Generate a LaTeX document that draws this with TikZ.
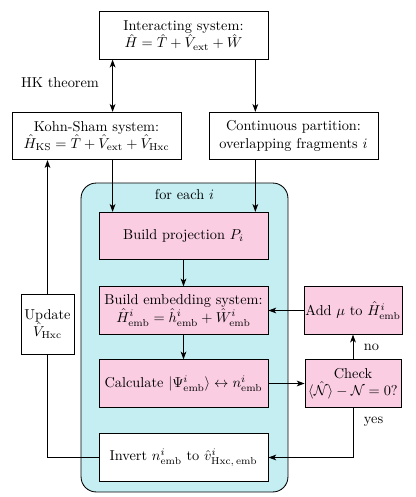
\documentclass[tikz,border=0pt]{standalone}
\usepackage{amsmath}
\usetikzlibrary{arrows.meta}
\definecolor{loopcyan}{RGB}{197,238,242}
\definecolor{steppink}{RGB}{250,205,226}
\begin{document}
\begin{tikzpicture}[x=0.0245cm,y=-0.0245cm,
    >={Stealth[length=5.5pt,width=4pt,inset=1.5pt]},
    every path/.style={semithick},
    plainbox/.style={draw,fill=white,align=center,inner sep=1pt,minimum width=4.14cm,minimum height=1.16cm},
    pinkbox/.style={plainbox,fill=steppink},
    sidebox/.style={pinkbox,minimum width=2.35cm}]
    \useasboundingbox (0,0) rectangle (415,497);
    \node[draw,fill=loopcyan,rounded corners=0.37cm,minimum width=5.07cm,minimum height=7.57cm] at (184.5,337.5) (loop) {};
    \node[below=1pt] at (loop.north) (each) {for each $i$};
    \node[plainbox] at (183.5,35.5) (int) {Interacting system:\\ $\hat{H}=\hat{T}+\hat{V}_{\text{ext}}+\hat{W}$};
    \node[plainbox] at (96.5,136) (ks) {Kohn-Sham system:\\ $\hat{H}_{\text{KS}}=\hat{T}+\hat{V}_{\text{ext}}+\hat{V}_{\text{Hxc}}$};
    \node[plainbox] at (293.5,136) (part) {Continuous partition:\\ overlapping fragments $i$};
    \node[pinkbox] at (183.5,236) (proj) {Build projection $P_i$};
    \node[pinkbox] at (183.5,310.5) (emb) {Build embedding system:\\ $\hat{H}^i_{\text{emb}}=\hat{h}^i_{\text{emb}}+\hat{W}^i_{\text{emb}}$};
    \node[pinkbox] at (183.5,383.5) (calc) {Calculate $|\Psi^i_{\text{emb}}\rangle\leftrightarrow n^i_{\text{emb}}$};
    \node[plainbox] at (183.5,457.5) (inv) {Invert $n^i_{\text{emb}}$ to $\hat{v}^i_{\text{Hxc},\,\text{emb}}$};
    \node[plainbox,minimum width=1.3cm,minimum height=1.47cm] at (47.5,324) (upd) {Update\\ $\hat{V}_{\text{Hxc}}$};
    \node[sidebox] at (353,310.5) (addmu) {Add $\mu$ to $\hat{H}^i_{\text{emb}}$};
    \node[sidebox] at (353,383.5) (check) {Check\\ $\langle\hat{\mathcal{N}}\rangle-\mathcal{N}=0?$};
    \node at (60,83) (hk) {HK theorem};
    \draw[<->] ([xshift=0.343cm]int.south west) -- ([xshift=0.343cm]int.south west |- ks.north);
    \draw[->] ([xshift=-0.32cm]int.south east) -- ([xshift=-0.32cm]int.south east |- part.north);
    \draw[->] ([xshift=0.343cm]proj.north west |- ks.south) -- ([xshift=0.343cm]proj.north west);
    \draw[->] ([xshift=-0.32cm]proj.north east |- part.south) -- ([xshift=-0.32cm]proj.north east);
    \draw[->] (proj) -- (emb);
    \draw[->] (emb) -- (calc);
    \draw[->] (calc) -- (check);
    \draw[->] (check) -- node[right=4pt] {no} (addmu);
    \draw[->] (addmu) -- (emb);
    \draw[->] (check.south) |- node[pos=0.14,right=4pt] {yes} (inv.east);
    \draw (inv.west) -| (upd.south);
    \draw[->] (upd.north) -- (upd.north |- ks.south);
\end{tikzpicture}
\end{document}
